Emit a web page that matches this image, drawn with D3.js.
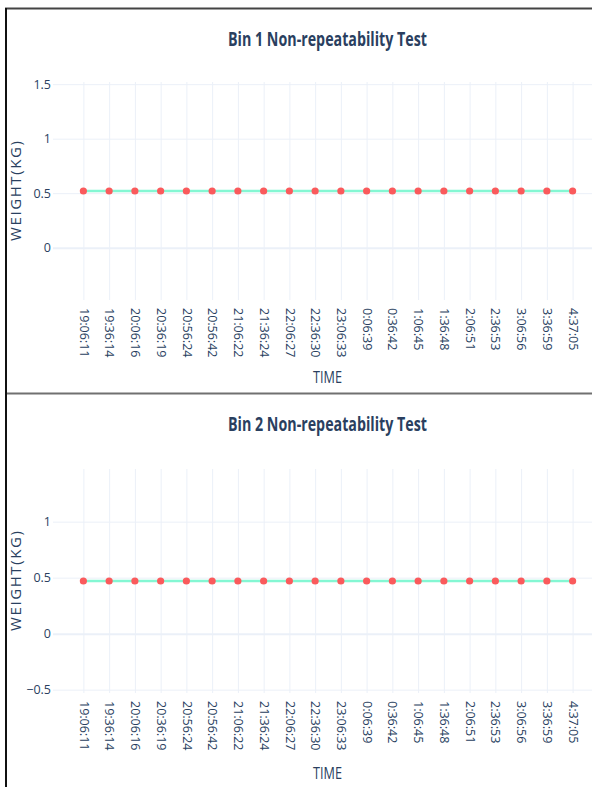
<!DOCTYPE html>
<html>
<head>
<meta charset="utf-8">
<script src="https://cdn.jsdelivr.net/npm/d3@7"></script>
<style>
  html, body { margin: 0; padding: 0; background: #fff; }
  svg { display: block; }
</style>
</head>
<body>
<svg id="chart" width="592" height="787"></svg>
<script>
// ---- data ----
const times = ["19:06:11","19:36:14","20:06:16","20:36:19","20:56:24","20:56:42","21:06:22","21:36:24","22:06:27","22:36:30","23:06:33","0:06:39","0:36:42","1:06:45","1:36:48","2:06:51","2:36:53","3:06:56","3:36:59","4:37:05"];
const bin1Weights = [0.52,0.52,0.52,0.52,0.52,0.52,0.52,0.52,0.52,0.52,0.52,0.52,0.52,0.52,0.52,0.52,0.52,0.52,0.52,0.52];
const bin2Weights = [0.47,0.47,0.47,0.47,0.47,0.47,0.47,0.47,0.47,0.47,0.47,0.47,0.47,0.47,0.47,0.47,0.47,0.47,0.47,0.47];
const bin1YTicks = [0, 0.5, 1, 1.5];
const bin2YTicks = [-0.5, 0, 0.5, 1];
const bin1YRange = [-0.48, 1.52];
const bin2YRange = [-0.53, 1.47];
const titles = ["Bin 1 Non-repeatability Test", "Bin 2 Non-repeatability Test"];
const xTitle = "TIME";
const yTitle = "WEIGHT(KG)";

// ---- layout ----
const svg = d3.select("#chart");
const textColor = "#2a3f5f";
const gridColor = "#ebf0f8";
const lineColor = "#84f7d3";
const markerColor = "#fa5a5c";
const plotLeft = 53, plotRight = 603;

const panels = [
  { title: titles[0], values: bin1Weights, ticks: bin1YTicks, range: bin1YRange,
    top: 82, bottom: 300, titleY: 45.5, xTitleY: 382.5 },
  { title: titles[1], values: bin2Weights, ticks: bin2YTicks, range: bin2YRange,
    top: 469, bottom: 693, titleY: 431, xTitleY: 779 }
];

panels.forEach(p => {
  const g = svg.append("g");
  const x = d3.scalePoint().domain(times).range([plotLeft, plotRight]).padding(1.18);
  const y = d3.scaleLinear().domain(p.range).range([p.bottom, p.top]);

  // y grid + ticks
  const yAxis = g.append("g")
    .attr("transform", `translate(${plotLeft},0)`)
    .call(d3.axisLeft(y).tickValues(p.ticks).tickFormat(d3.format(""))
      .tickSize(-(plotRight - plotLeft)).tickPadding(2));
  yAxis.select(".domain").remove();
  yAxis.selectAll(".tick line")
    .attr("stroke", gridColor)
    .attr("stroke-width", d => d === 0 ? 2 : 1);
  yAxis.selectAll(".tick text")
    .attr("fill", textColor)
    .attr("font-family", "'Open Sans', sans-serif")
    .attr("font-size", 12.5)
    .attr("x", -2);

  // x grid + ticks
  const xAxis = g.append("g")
    .attr("transform", `translate(0,${p.bottom})`)
    .call(d3.axisBottom(x).tickSize(-(p.bottom - p.top)));
  xAxis.select(".domain").remove();
  xAxis.selectAll(".tick line").attr("stroke", gridColor).attr("stroke-width", 1);
  xAxis.selectAll(".tick text")
    .attr("fill", textColor)
    .attr("font-family", "'Open Sans', sans-serif")
    .attr("font-size", 12.5)
    .attr("transform", "rotate(90)")
    .attr("text-anchor", "start")
    .attr("x", 8)
    .attr("y", 0)
    .attr("dy", "0.35em");

  // line
  g.append("path")
    .datum(p.values)
    .attr("fill", "none")
    .attr("stroke", lineColor)
    .attr("stroke-width", 2.5)
    .attr("d", d3.line().x((d, i) => x(times[i])).y(d => y(d)));

  // markers
  g.selectAll("circle.pt")
    .data(p.values)
    .join("circle")
    .attr("class", "pt")
    .attr("cx", (d, i) => x(times[i]))
    .attr("cy", d => y(d))
    .attr("r", 3.6)
    .attr("fill", markerColor);

  // title
  g.append("text")
    .attr("x", 327.5)
    .attr("y", p.titleY)
    .attr("text-anchor", "middle")
    .attr("fill", textColor)
    .attr("font-family", "'Open Sans', sans-serif")
    .attr("font-weight", 700)
    .attr("font-size", 19)
    .attr("textLength", 199)
    .attr("lengthAdjust", "spacingAndGlyphs")
    .text(p.title);

  // x title
  g.append("text")
    .attr("x", 327.5)
    .attr("y", p.xTitleY)
    .attr("text-anchor", "middle")
    .attr("fill", textColor)
    .attr("font-family", "'Open Sans', sans-serif")
    .attr("font-size", 17)
    .attr("textLength", 29)
    .attr("lengthAdjust", "spacingAndGlyphs")
    .text(xTitle);

  // y title
  const cy = (p.top + p.bottom) / 2;
  g.append("text")
    .attr("transform", `translate(21,${cy}) rotate(-90)`)
    .attr("text-anchor", "middle")
    .attr("fill", textColor)
    .attr("font-family", "'Open Sans', sans-serif")
    .attr("font-size", 15)
    .attr("textLength", 100)
    .attr("lengthAdjust", "spacing")
    .text(yTitle);
});

// frame lines
svg.append("line").attr("x1", 5).attr("x2", 592).attr("y1", 8.5).attr("y2", 8.5)
  .attr("stroke", "#444").attr("stroke-width", 2);
svg.append("line").attr("x1", 6).attr("x2", 592).attr("y1", 393.5).attr("y2", 393.5)
  .attr("stroke", "#707070").attr("stroke-width", 2);
svg.append("line").attr("x1", 6).attr("x2", 6).attr("y1", 8).attr("y2", 787)
  .attr("stroke", "#111").attr("stroke-width", 2);
</script>
</body>
</html>
